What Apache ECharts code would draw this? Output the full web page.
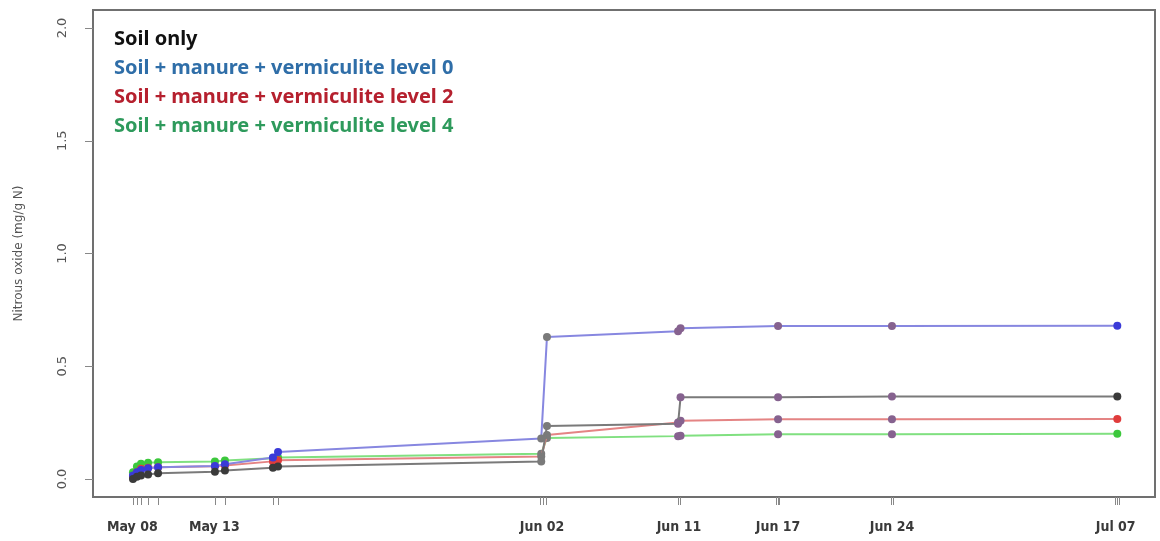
<!DOCTYPE html>
<html>
<head>
<meta charset="utf-8">
<script src="https://cdn.jsdelivr.net/npm/echarts@6/dist/echarts.min.js"></script>
<style>html,body{margin:0;padding:0;background:#fff}#c{width:1160px;height:541px}</style>
</head>
<body>
<div id="c"></div>
<script>
// Sample times: days counted from Apr 30 (May 08 = 8, Jun 02 = 33, Jul 07 = 68)
const sampleDays = [8.04, 8.28, 8.53, 8.96, 9.57, 13.04, 13.65, 16.58, 16.89, 32.95, 33.3, 41.3, 41.45, 47.4, 54.35, 68.1];
const tickDays = [8.04, 8.28, 8.53, 8.96, 9.57, 13.04, 13.65, 16.58, 16.89, 32.87, 33.06, 33.24, 41.3, 41.45, 47.3, 47.4, 47.5, 54.3, 54.4, 68.0, 68.1, 68.2];
const labelDays = [8.0, 13.0, 33.0, 41.35, 47.4, 54.35, 68.0];
const labelTexts = ['May 08', 'May 13', 'Jun 02', 'Jun 11', 'Jun 17', 'Jun 24', 'Jul 07'];
const yTicks = [0, 0.5, 1.0, 1.5, 2.0];

const seriesNames = ['Soil only', 'Soil + manure + vermiculite level 0', 'Soil + manure + vermiculite level 2', 'Soil + manure + vermiculite level 4'];
const soilOnly = [0.000, 0.010, 0.015, 0.020, 0.025, 0.032, 0.038, 0.050, 0.055, 0.078, 0.235, 0.245, 0.362, 0.362, 0.366, 0.366];
const level0   = [0.015, 0.030, 0.040, 0.048, 0.052, 0.058, 0.065, 0.095, 0.120, 0.180, 0.630, 0.655, 0.668, 0.678, 0.678, 0.680];
const level2   = [0.010, 0.030, 0.045, 0.050, 0.052, 0.056, 0.060, 0.078, 0.083, 0.100, 0.195, 0.250, 0.258, 0.265, 0.265, 0.266];
const level4   = [0.030, 0.055, 0.068, 0.072, 0.074, 0.078, 0.082, 0.092, 0.095, 0.112, 0.182, 0.190, 0.192, 0.198, 0.198, 0.200];

const lineColors   = ['#7a7a7a', '#8787e0', '#e48484', '#80e080'];
const markerColors = ['#3a3a3a', '#3a3ad8', '#e03c3c', '#3cc83c'];
const legendColors = ['#111111', '#2f6ea8', '#b5202e', '#2e9a5c'];

function markerColor(day, i) {
  if (day > 32 && day < 34) return '#7a7a7a';
  if (day > 40 && day < 56) return '#86628f';
  return markerColors[i];
}

const allValues = [soilOnly, level0, level2, level4];
const series = allValues.map((vals, i) => ({
  name: seriesNames[i],
  type: 'line',
  symbol: 'circle',
  symbolSize: 8,
  z: 10 - i,
  lineStyle: { color: lineColors[i], width: 2 },
  itemStyle: { color: lineColors[i] },
  data: vals.map((v, k) => ({ value: [sampleDays[k], v], itemStyle: { color: markerColor(sampleDays[k], i) } }))
}));

const chart = echarts.init(document.getElementById('c'));
chart.setOption({
  animation: false,
  backgroundColor: '#fff',
  grid: { left: 93, right: 5, top: 10, bottom: 44, show: true, borderColor: '#707070', borderWidth: 2 },
  legend: {
    orient: 'vertical', left: 104, top: 23, itemWidth: 0, itemHeight: 0, itemGap: 7,
    selectedMode: false,
    data: seriesNames.map((n, i) => ({ name: n, icon: 'none', textStyle: { color: legendColors[i] } })),
    textStyle: { fontFamily: 'Noto Sans', fontWeight: 'bold', fontSize: 20, lineHeight: 22 }
  },
  xAxis: {
    type: 'value', min: 5.6, max: 70.4,
    splitLine: { show: false },
    axisLine: { show: true, onZero: false, lineStyle: { color: '#707070', width: 2 } },
    axisTick: { show: true, inside: false, length: 8, customValues: tickDays, lineStyle: { color: '#888', width: 1 } },
    axisLabel: {
      customValues: labelDays, margin: 23,
      fontFamily: 'DejaVu Sans Condensed', fontSize: 14, fontWeight: 'bold', color: '#3a3a3a',
      formatter: function (v) {
        let best = 0, bd = 1e9;
        labelDays.forEach((d, k) => { const dd = Math.abs(d - v); if (dd < bd) { bd = dd; best = k; } });
        return labelTexts[best];
      }
    }
  },
  yAxis: {
    type: 'value', min: -0.08, max: 2.08,
    name: 'Nitrous oxide (mg/g N)', nameLocation: 'middle', nameRotate: 90, nameGap: 68,
    nameTextStyle: { fontFamily: 'DejaVu Sans', fontSize: 12, color: '#555' },
    splitLine: { show: false },
    axisLine: { show: true, onZero: false, lineStyle: { color: '#707070', width: 2 } },
    axisTick: { show: true, inside: false, length: 8, customValues: yTicks, lineStyle: { color: '#888', width: 1 } },
    axisLabel: {
      customValues: yTicks, rotate: 90, margin: 24,
      fontFamily: 'DejaVu Sans', fontSize: 13, color: '#555',
      formatter: v => v.toFixed(1)
    }
  },
  series: series
});
</script>
</body>
</html>
